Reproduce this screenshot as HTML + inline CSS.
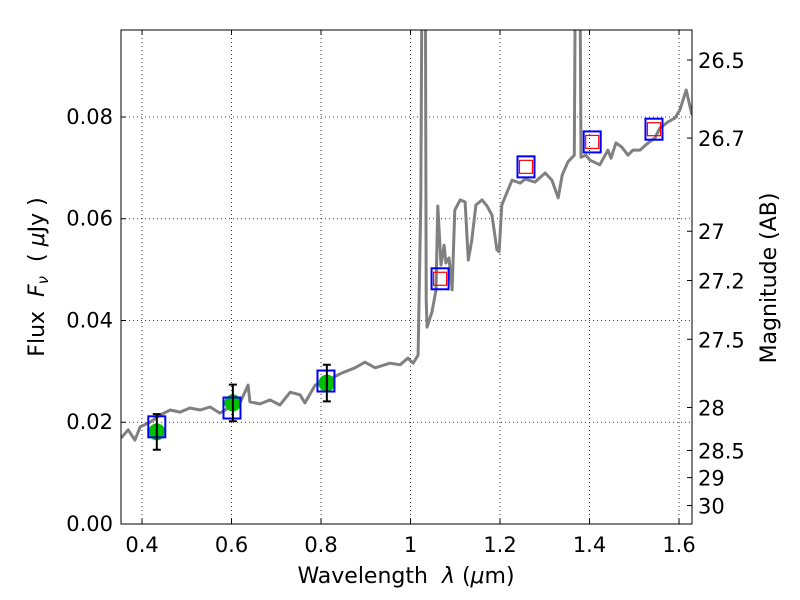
<!DOCTYPE html>
<html><head><meta charset="utf-8"><style>
body{margin:0;background:#fff;}
svg{display:block;font-family:"DejaVu Sans","Liberation Sans",sans-serif;}
</style></head><body>
<svg id="chart" width="800" height="600" viewBox="0 0 800 600" xmlns="http://www.w3.org/2000/svg">
<rect x="0" y="0" width="800" height="600" fill="#fff"/>
<defs><clipPath id="plotclip"><rect x="121" y="30" width="571" height="494"/></clipPath></defs>
<g id="grid"></g>
<g id="series" clip-path="url(#plotclip)"></g>
<rect x="121" y="30" width="571" height="494" fill="none" stroke="#000" stroke-width="1"/>
<g id="axes"></g>
<text x="406" y="583" font-size="22" text-anchor="middle" xml:space="preserve">Wavelength  <tspan font-style="italic">λ</tspan> (<tspan font-style="italic">μ</tspan>m)</text>
<text transform="translate(44,277) rotate(-90)" font-size="22" text-anchor="middle" xml:space="preserve">Flux  <tspan font-style="italic">F<tspan font-size="15" dy="4">ν</tspan></tspan><tspan dy="-4">  ( </tspan><tspan font-style="italic">μ</tspan>Jy )</text>
<text transform="translate(776,278) rotate(-90)" font-size="22" text-anchor="middle">Magnitude (AB)</text>
</svg>
<script>
const specWave=[0.353,0.369,0.384,0.396,0.418,0.440,0.463,0.485,0.507,0.530,0.552,0.574,0.597,0.619,0.637,0.641,0.664,0.686,0.708,0.731,0.753,0.764,0.787,0.809,0.842,0.876,0.898,0.921,0.954,0.977,0.994,1.006,1.017,1.023,1.028,1.032,1.035,1.037,1.048,1.057,1.061,1.068,1.075,1.079,1.086,1.093,1.099,1.111,1.122,1.129,1.137,1.146,1.160,1.171,1.182,1.193,1.198,1.204,1.218,1.227,1.245,1.256,1.278,1.301,1.316,1.330,1.339,1.352,1.366,1.371,1.376,1.381,1.392,1.401,1.423,1.441,1.448,1.459,1.472,1.486,1.497,1.513,1.528,1.546,1.557,1.575,1.591,1.602,1.616,1.629];
const specFlux=[0.0169,0.0185,0.0165,0.0191,0.0200,0.0214,0.0224,0.0220,0.0228,0.0224,0.0230,0.0218,0.0230,0.0238,0.0273,0.0240,0.0236,0.0244,0.0234,0.0259,0.0254,0.0238,0.0273,0.0279,0.0295,0.0307,0.0318,0.0307,0.0316,0.0313,0.0326,0.0316,0.0332,0.0637,0.15,0.15,0.044,0.0387,0.0417,0.046,0.0625,0.0509,0.0548,0.0513,0.0523,0.046,0.0617,0.0637,0.0633,0.0519,0.0558,0.0627,0.0637,0.0625,0.0607,0.0539,0.0535,0.0627,0.0657,0.0676,0.0670,0.0678,0.0672,0.0690,0.0676,0.0641,0.0686,0.0712,0.0725,0.15,0.15,0.0721,0.0725,0.0715,0.0706,0.0735,0.0719,0.0749,0.0741,0.0725,0.0735,0.0735,0.0747,0.0759,0.0778,0.0790,0.0798,0.0814,0.0853,0.0804];
const obsWave=[0.433,0.603,0.813];
const obsFlux=[0.0181,0.0238,0.0277];
const obsErr=[0.0035,0.0036,0.0036];
const modelWave=[0.433,0.601,0.811,1.066,1.258,1.406,1.544];
const modelFlux=[0.0191,0.0228,0.0281,0.0482,0.0702,0.0751,0.0776];
const limWave=[1.066,1.258,1.406,1.544];
const limFlux=[0.0482,0.0702,0.0751,0.0776];
const xTicks=[0.4,0.6,0.8,1.0,1.2,1.4,1.6];
const xTickLabels=["0.4","0.6","0.8","1","1.2","1.4","1.6"];
const yTicks=[0,0.02,0.04,0.06,0.08];
const yTickLabels=["0.00","0.02","0.04","0.06","0.08"];
const magTicks=[26.5,26.7,27,27.2,27.5,28,28.5,29,30];
const magTickLabels=["26.5","26.7","27","27.2","27.5","28","28.5","29","30"];

const NS="http://www.w3.org/2000/svg";
const X0=121,X1=692,Y0=524,Y1=30,XMIN=0.353,XMAX=1.629,YMIN=0,YMAX=0.0971;
const sx=v=>X0+(v-XMIN)/(XMAX-XMIN)*(X1-X0);
const sy=v=>Y0-(v-YMIN)/(YMAX-YMIN)*(Y0-Y1);
const magToFlux=m=>Math.pow(10,(23.9-m)/2.5);
function mk(tag,attrs,parent){const e=document.createElementNS(NS,tag);for(const k in attrs)e.setAttribute(k,attrs[k]);parent.appendChild(e);return e;}
const grid=document.getElementById('grid'),series=document.getElementById('series'),axes=document.getElementById('axes');

xTicks.forEach((t,i)=>{
  const x=sx(t);
  const g=mk('line',{x1:x,x2:x,y1:Y1,y2:Y0,stroke:'#000','stroke-width':0.8,'stroke-dasharray':'1,3'},grid);
  
  
  mk('line',{x1:x,x2:x,y1:Y0,y2:Y0-5,stroke:'#000'},axes);
  mk('line',{x1:x,x2:x,y1:Y1,y2:Y1+5,stroke:'#000'},axes);
  const tx=mk('text',{x:x,y:Y0+28,'font-size':21,'text-anchor':'middle'},axes);
  tx.textContent=xTickLabels[i];
  
  
});
yTicks.forEach((t,i)=>{
  const y=sy(t);
  const g=mk('line',{x1:X0,x2:X1,y1:y,y2:y,stroke:'#000','stroke-width':0.8,'stroke-dasharray':'1,3'},grid);
  
  
  mk('line',{x1:X0,x2:X0+5,y1:y,y2:y,stroke:'#000'},axes);
  const tx=mk('text',{x:X0-8,y:y+7,'font-size':21,'text-anchor':'end'},axes);
  tx.textContent=yTickLabels[i];
  
  
});
magTicks.forEach((m,i)=>{
  const y=sy(magToFlux(m));
  mk('line',{x1:X1,x2:X1-5,y1:y,y2:y,stroke:'#000'},axes);
  const tx=mk('text',{x:X1+6,y:y+8,'font-size':21},axes);
  tx.textContent=magTickLabels[i];
  
  
});

const pts=specWave.map((w,i)=>sx(w).toFixed(1)+','+sy(specFlux[i]).toFixed(1)).join(' ');
const pl=mk('polyline',{points:pts,fill:'none',stroke:'#808080','stroke-width':3,'stroke-linejoin':'round'},series);



obsWave.forEach((w,i)=>{
  const x=sx(w),y=sy(obsFlux[i]);
  const c=mk('circle',{cx:x,cy:y,r:8.5,fill:'#00bf00'},series);
  
  
});
modelWave.forEach((w,i)=>{
  const x=sx(w),y=sy(modelFlux[i]);
  const r=mk('rect',{x:x-8.5,y:y-10.5,width:17,height:21,fill:'none',stroke:'#0000ff','stroke-width':2},series);
  
  
});
limWave.forEach((w,i)=>{
  const x=sx(w),y=sy(limFlux[i]);
  const r=mk('rect',{x:x-6.5,y:y-6.5,width:13,height:13,fill:'none',stroke:'#ff0000','stroke-width':1.2},series);
  
  
});
obsWave.forEach((w,i)=>{
  const x=sx(w),yt=sy(obsFlux[i]+obsErr[i]),yb=sy(obsFlux[i]-obsErr[i]);
  const g=mk('g',{stroke:'#000','stroke-width':2},series);
  
  
  mk('line',{x1:x,x2:x,y1:yt,y2:yb},g);
  mk('line',{x1:x-4,x2:x+4,y1:yt,y2:yt},g);
  mk('line',{x1:x-4,x2:x+4,y1:yb,y2:yb},g);
});
</script>
</body></html>
